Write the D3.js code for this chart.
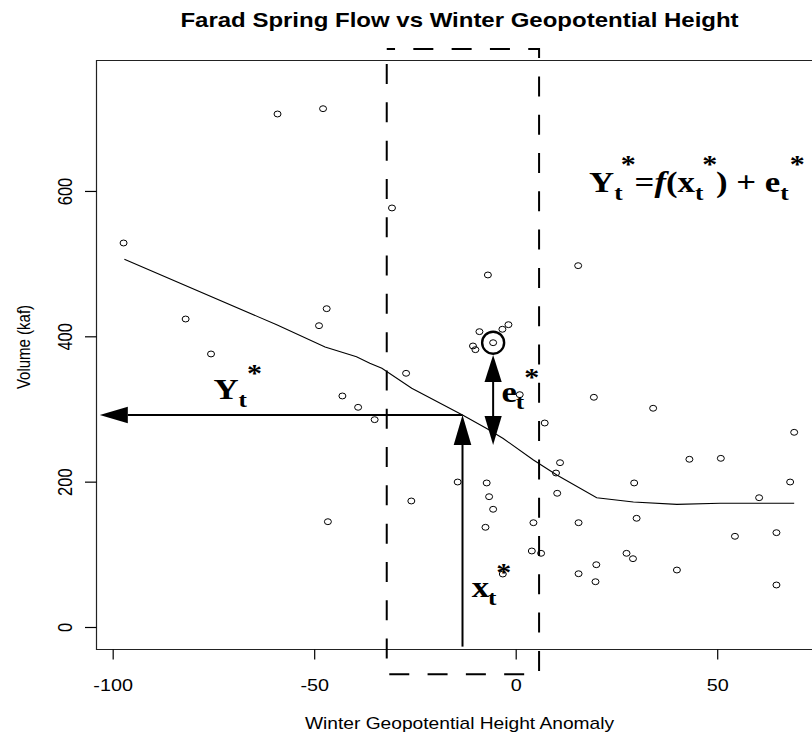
<!DOCTYPE html>
<html>
<head>
<meta charset="utf-8">
<script src="https://cdn.jsdelivr.net/npm/d3@7"></script>
<style>
  html, body { margin: 0; padding: 0; background: #fff; }
  svg { display: block; }
</style>
</head>
<body>
<div id="chart"></div>
<script>
// Winter geopotential height anomaly (x) vs Farad spring flow volume in kaf (y)
const anomaly = [
  -97.3, -81.9, -75.6, -59.1, -47.8, -48.8, -46.9, -46.6, -43.0, -39.1,
  -35.0, -30.7, -27.2, -25.9, -14.4, -10.6, -10.0, -9.0, -6.9, -3.3,
  -1.8, -5.6, -7.2, -6.6, -5.6, -7.5, 1.0, 7.2, 4.4, 4.0,
  6.3, -3.2, 11.0, 10.0, 10.3, 15.6, 15.6, 19.4, 20.0, 19.8,
  27.5, 29.1, 29.4, 30.0, 34.1, 40.0, 43.1, 50.9, 54.4, 60.4,
  64.7, 64.7, 68.1, 69.1, 15.5
];
const volume = [
  528.4, 423.8, 375.7, 705.9, 713.2, 414.6, 438.0, 144.9, 317.9, 302.3,
  285.3, 576.6, 349.1, 173.4, 199.5, 386.7, 381.6, 406.4, 484.4, 409.7,
  416.0, 391.2, 198.2, 179.3, 162.0, 137.2, 319.7, 280.7, 143.5, 104.6,
  101.4, 72.9, 226.1, 211.9, 184.0, 143.5, 73.3, 316.1, 85.7, 62.3,
  101.4, 94.0, 198.2, 149.6, 301.0, 78.4, 230.8, 232.1, 124.8, 177.9,
  129.8, 57.8, 199.5, 267.9, 497.2
];

// Smoothed (lowess) fit through the scatter
const fitX = [-97.1, -59.3, -47.3, -39.5, -36.2, -33.2, -25.8, -13.2, -7.2, -3.1, 4.4, 10.2, 20.1, 29.2, 40.0, 50.7, 69.1];
const fitY = [506.0, 415.9, 385.3, 371.9, 362.9, 356.0, 328.5, 291.7, 273.1, 259.4, 229.8, 209.2, 177.9, 172.0, 168.8, 170.2, 170.2];

const xTicks = [-100, -50, 0, 50];
const yTicks = [0, 200, 400, 600];

// Conditioning window around x*, the chosen year's anomaly
const windowX = [-32.0, 5.8];
const windowY = [-65.1, 795.4];
const xStar = -13.2;
const yStar = 291.7;          // f(x*)
const highlightIndex = 21;    // the resampled residual's observation
const residualSpan = [374.3, 250.4];

const titleText = "Farad Spring Flow vs Winter Geopotential Height";
const xTitle = "Winter Geopotential Height Anomaly";
const yTitle = "Volume (kaf)";

const W = 812, H = 735;
const plot = { left: 96, top: 60, right: 823, bottom: 649 };
const stretch = 1.2;

const svg = d3.select("#chart").append("svg")
  .attr("width", W).attr("height", H)
  .attr("viewBox", `0 0 ${W} ${H}`);

const x = d3.scaleLinear().domain([-104.14, 76.25]).range([plot.left, plot.right]);
const y = d3.scaleLinear().domain([-30.27, 780.2]).range([plot.bottom, plot.top]);

const sans = "'Liberation Sans', Arial, Helvetica, sans-serif";
const serif = "'Liberation Serif', 'Times New Roman', Times, serif";

// Title
svg.append("text")
  .attr("transform", `translate(459.5,26.5) scale(${stretch},1)`)
  .attr("text-anchor", "middle")
  .attr("font-family", sans).attr("font-weight", "bold").attr("font-size", 20)
  .attr("fill", "#000")
  .text(titleText);

// Plot frame (left, top, bottom)
svg.append("path")
  .attr("d", `M${plot.right},${plot.top + 0.5}H${plot.left + 0.5}V${plot.bottom + 0.5}H${plot.right}`)
  .attr("fill", "none").attr("stroke", "#222").attr("stroke-width", 1.2);

// X axis
const xAxis = d3.axisBottom(x).tickValues(xTicks).tickSize(10).tickPadding(0).tickFormat(d3.format("d"));
const gx = svg.append("g").attr("transform", `translate(0,${plot.bottom + 0.5})`).call(xAxis);
gx.select(".domain").remove();
gx.selectAll(".tick line").attr("stroke", "#000").attr("stroke-width", 1.2);
gx.selectAll(".tick text")
  .attr("y", null).attr("dy", null)
  .attr("transform", `translate(0,41.5) scale(${stretch},1)`)
  .attr("font-family", sans).attr("font-size", 16.5).attr("fill", "#000")
  .text(d => d < 0 ? "-" + Math.abs(d) : d);

// Y axis with rotated labels
const yAxis = d3.axisLeft(y).tickValues(yTicks).tickSize(11.5).tickPadding(0).tickFormat(d3.format("d"));
const gy = svg.append("g").attr("transform", `translate(${plot.left + 0.5},0)`).call(yAxis);
gy.select(".domain").remove();
gy.selectAll(".tick line").attr("stroke", "#000").attr("stroke-width", 1.2);
gy.selectAll(".tick text")
  .attr("x", null).attr("dy", null)
  .attr("text-anchor", "middle")
  .attr("transform", `translate(-25,0) scale(${stretch},1) rotate(-90)`)
  .attr("font-family", sans).attr("font-size", 16.5).attr("fill", "#000");

// Axis titles
svg.append("text")
  .attr("transform", `translate(459.5,728.5) scale(${stretch},1)`)
  .attr("text-anchor", "middle")
  .attr("font-family", sans).attr("font-size", 16).attr("fill", "#000")
  .text(xTitle);
svg.append("text")
  .attr("transform", `translate(30,347) scale(${stretch},1) rotate(-90)`)
  .attr("text-anchor", "middle")
  .attr("font-family", sans).attr("font-size", 15).attr("fill", "#000")
  .text(yTitle);

// Dashed conditioning window
svg.append("path")
  .attr("d", `M${x(windowX[0])},${y(windowY[1])}H${x(windowX[1])}V${y(windowY[0])}H${x(windowX[0])}Z`)
  .attr("fill", "none").attr("stroke", "#000").attr("stroke-width", 2)
  .attr("stroke-dasharray", "20,18.3").attr("stroke-dashoffset", 11.7);

// Scatter points
const pts = anomaly.map((a, i) => ({ a, v: volume[i] }));
svg.append("g").selectAll("ellipse").data(pts).join("ellipse")
  .attr("cx", d => x(d.a)).attr("cy", d => y(d.v))
  .attr("rx", 3.5).attr("ry", 2.95)
  .attr("fill", "none").attr("stroke", "#000").attr("stroke-width", 1);

// Smoothed curve
const fit = fitX.map((a, i) => [a, fitY[i]]);
svg.append("path")
  .attr("d", d3.line().x(d => x(d[0])).y(d => y(d[1]))(fit))
  .attr("fill", "none").attr("stroke", "#000").attr("stroke-width", 1.1);

// Highlighted observation
const hp = pts[highlightIndex];
svg.append("circle")
  .attr("cx", x(hp.a)).attr("cy", y(hp.v)).attr("r", 11)
  .attr("fill", "none").attr("stroke", "#000").attr("stroke-width", 2.4);

// Arrow helper: shaft plus filled triangular head at (x2,y2)
function arrow(x1, y1, x2, y2, headLen, headHalf) {
  const dx = x2 - x1, dy = y2 - y1, len = Math.hypot(dx, dy);
  const ux = dx / len, uy = dy / len;
  const bx = x2 - ux * headLen, by = y2 - uy * headLen;
  svg.append("line")
    .attr("x1", x1).attr("y1", y1).attr("x2", bx).attr("y2", by)
    .attr("stroke", "#000").attr("stroke-width", 2);
  svg.append("path")
    .attr("d", `M${x2},${y2}L${bx - uy * headHalf},${by + ux * headHalf}L${bx + uy * headHalf},${by - ux * headHalf}Z`)
    .attr("fill", "#000");
}

// Y* : from the curve at x* back to the volume axis
arrow(x(xStar), y(yStar), x(-103.2), y(yStar), 28, 8.3);
// x* : up from the anomaly axis to the curve
arrow(x(xStar), y(-27), x(xStar), y(yStar), 30, 8.8);
// e* : residual, double headed
const eMid = (residualSpan[0] + residualSpan[1]) / 2;
arrow(x(hp.a), y(eMid), x(hp.a), y(residualSpan[0]), 27, 8.6);
arrow(x(hp.a), y(eMid), x(hp.a), y(residualSpan[1]), 29, 8.6);

// Math labels in bold serif, with subscript t and superscript *
function mathLabel(ax, ay, parts) {
  const t = svg.append("text")
    .attr("transform", `translate(${x(ax)},${y(ay)}) scale(${stretch},1)`)
    .attr("font-family", serif).attr("font-weight", "bold").attr("fill", "#000");
  let base = 0;
  parts.forEach(p => {
    const target = p.shift || 0;
    t.append("tspan")
      .attr("font-size", p.size)
      .attr("font-style", p.italic ? "italic" : null)
      .attr("dy", target - base)
      .attr("dx", p.dx || 0)
      .text(p.s);
    base = target;
  });
}
const sub = 8, sup = -19;
const big = 29, small = 21, star = 25;

mathLabel(18.2, 599.0, [
  { s: "Y", size: big },
  { s: "t", size: small, shift: sub },
  { s: "*", size: star, shift: sup, dx: -1.5 },
  { s: "=", size: big, dx: -1 },
  { s: "f", size: big, italic: true },
  { s: "(", size: big },
  { s: "x", size: big },
  { s: "t", size: small, shift: sub },
  { s: "*", size: star, shift: sup, dx: -1 },
  { s: ") + e", size: big, dx: -1 },
  { s: "t", size: small, shift: sub },
  { s: "*", size: star, shift: sup, dx: 1 }
]);

mathLabel(-75.0, 313.3, [
  { s: "Y", size: big },
  { s: "t", size: small, shift: sub },
  { s: "*", size: star, shift: -16.9, dx: 0 }
]);

mathLabel(-3.5, 310.0, [
  { s: "e", size: big },
  { s: "t", size: small, shift: 7.6, dx: -1 },
  { s: "*", size: star, shift: -15.3, dx: 0 }
]);

mathLabel(-10.9, 40.9, [
  { s: "x", size: big },
  { s: "t", size: small, shift: 7.7, dx: -1 },
  { s: "*", size: star, shift: -15.9, dx: 0 }
]);
</script>
</body>
</html>
